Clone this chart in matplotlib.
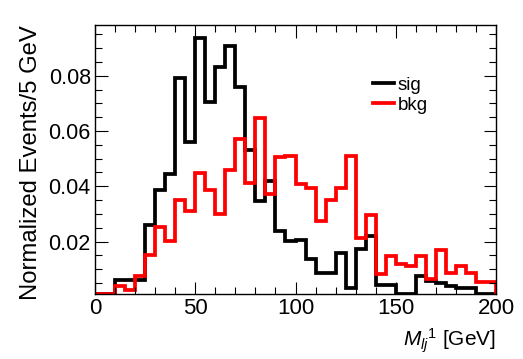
import numpy as np
import matplotlib
matplotlib.use("Agg")
import matplotlib.pyplot as plt
from matplotlib.ticker import MultipleLocator

# 5 GeV bins from 0 to 200
bin_edges = np.arange(0, 205, 5)

sig = [0.0, 0.0, 0.0059, 0.0059, 0.0062, 0.0261, 0.0388, 0.0446, 0.0791, 0.0562,
       0.0936, 0.0707, 0.0833, 0.0908, 0.0761, 0.0532, 0.0346, 0.0418, 0.0237, 0.0201,
       0.0205, 0.0135, 0.0087, 0.0087, 0.0159, 0.0033, 0.0173, 0.0219, 0.0044, 0.0044,
       0.0, 0.0, 0.0074, 0.0056, 0.0051, 0.0038, 0.0033, 0.0033, 0.0, 0.0]

bkg = [0.0, 0.0, 0.0038, 0.0023, 0.0074, 0.0153, 0.0253, 0.0201, 0.0352, 0.0309,
       0.0448, 0.0388, 0.0301, 0.0458, 0.0571, 0.0412, 0.0649, 0.0373, 0.0506, 0.0511,
       0.0408, 0.0394, 0.0273, 0.0352, 0.0394, 0.0511, 0.0213, 0.0297, 0.0083, 0.0147,
       0.0119, 0.0113, 0.0147, 0.0066, 0.0171, 0.0087, 0.0111, 0.0087, 0.0053, 0.0053]

labels = ["sig", "bkg"]
colors = ["black", "#ff0000"]

plt.rcParams['font.family'] = ['Liberation Sans', 'DejaVu Sans']
plt.rcParams['mathtext.fontset'] = 'custom'
plt.rcParams['mathtext.rm'] = 'Liberation Sans'
plt.rcParams['mathtext.it'] = 'Liberation Sans:italic'

fig = plt.figure(figsize=(5.23, 3.59), dpi=100)
ax = fig.add_axes([95/523, 1-294/359, (496-95)/523, (294-25)/359])

ymin, ymax = 0.001, 0.0984
for vals, lab, col in zip([sig, bkg], labels, colors):
    v = np.clip(np.asarray(vals), ymin, None)
    ax.stairs(v, bin_edges, baseline=ymin, color=col, lw=2.7, label=lab)

ax.set_xlim(0, 200)
ax.set_ylim(ymin, ymax)
ax.xaxis.set_major_locator(MultipleLocator(50))
ax.xaxis.set_minor_locator(MultipleLocator(10))
ax.yaxis.set_minor_locator(MultipleLocator(0.005))
ax.set_yticks([0.02, 0.04, 0.06, 0.08])
ax.set_yticklabels(["0.02", "0.04", "0.06", "0.08"])
ax.tick_params(which='both', direction='in', top=True, right=True, width=0.8)
ax.tick_params(axis='y', labelsize=15.5)
ax.tick_params(axis='x', labelsize=16)
ax.tick_params(which='major', length=9, pad=3)
ax.tick_params(which='minor', length=5)
for s in ax.spines.values():
    s.set_linewidth(1.0)

ax.set_ylabel("Normalized Events/5 GeV", fontsize=17.2, loc='top', labelpad=5)
ax.set_xlabel(r"$M_{lj}{}^{\mathrm{1}}$ [GeV]", fontsize=15, loc='right', labelpad=5)

ax.legend(loc='upper left', bbox_to_anchor=(0.652, 0.87), frameon=False, fontsize=13.5,
          handlelength=1.1, handletextpad=0.2, labelspacing=0.15,
          handles=[plt.Line2D([], [], color=c, lw=2.7) for c in colors], labels=labels)

fig.savefig("out.png", dpi=100)
